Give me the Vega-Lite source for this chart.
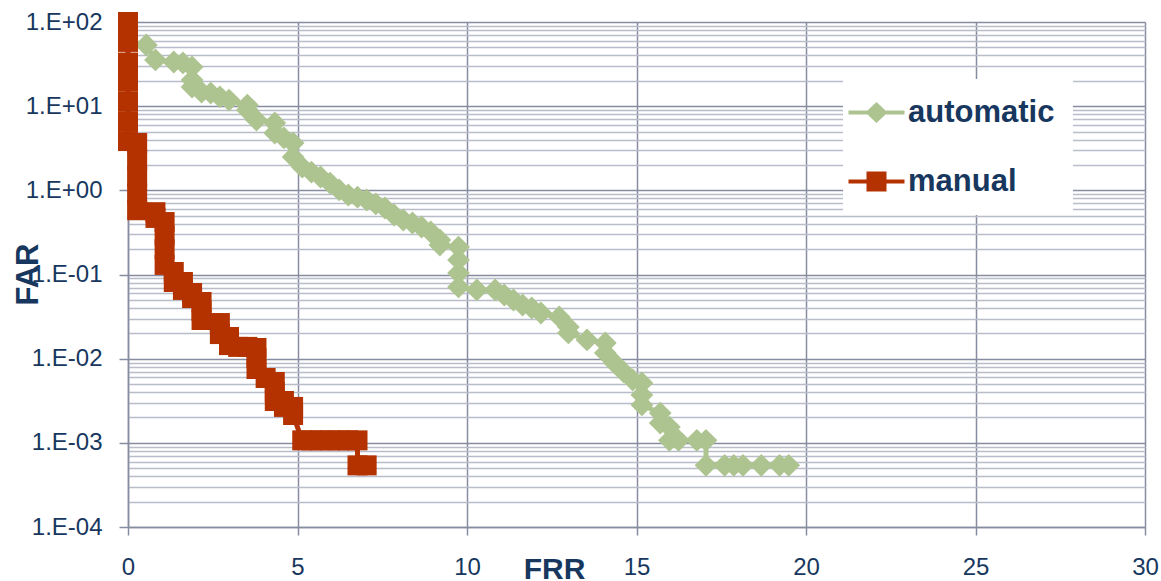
{
  "$schema": "https://vega.github.io/schema/vega-lite/v6.json",
  "width": 1017,
  "height": 505,
  "autosize": {"type": "none"},
  "padding": {"left": 128, "top": 22, "right": 16, "bottom": 54},
  "background": "white",
  "config": {"view": {"stroke": null}, "font": "Liberation Sans"},
  "title": {"text": "Matching epochs", "anchor": "start", "frame": "group", "dx": 362, "offset": 5, "baseline": "alphabetic", "font": "Liberation Sans", "fontSize": 45, "fontStyle": "italic", "fontWeight": "normal", "color": "#17375e"},
  "data": {"values": [
    {"series": "automatic", "order": 0, "FRR": 0.54, "FAR": 53.3},
    {"series": "automatic", "order": 1, "FRR": 0.81, "FAR": 35.4},
    {"series": "automatic", "order": 2, "FRR": 1.35, "FAR": 33.5},
    {"series": "automatic", "order": 3, "FRR": 1.62, "FAR": 32.6},
    {"series": "automatic", "order": 4, "FRR": 1.89, "FAR": 29.2},
    {"series": "automatic", "order": 5, "FRR": 1.89, "FAR": 20.5},
    {"series": "automatic", "order": 6, "FRR": 1.89, "FAR": 16.9},
    {"series": "automatic", "order": 7, "FRR": 2.17, "FAR": 14.7},
    {"series": "automatic", "order": 8, "FRR": 2.44, "FAR": 14.3},
    {"series": "automatic", "order": 9, "FRR": 2.71, "FAR": 12.9},
    {"series": "automatic", "order": 10, "FRR": 2.98, "FAR": 11.8},
    {"series": "automatic", "order": 11, "FRR": 3.52, "FAR": 10.3},
    {"series": "automatic", "order": 12, "FRR": 3.52, "FAR": 9.0},
    {"series": "automatic", "order": 13, "FRR": 3.79, "FAR": 6.85},
    {"series": "automatic", "order": 14, "FRR": 4.33, "FAR": 6.31},
    {"series": "automatic", "order": 15, "FRR": 4.33, "FAR": 4.8},
    {"series": "automatic", "order": 16, "FRR": 4.6, "FAR": 4.19},
    {"series": "automatic", "order": 17, "FRR": 4.87, "FAR": 3.65},
    {"series": "automatic", "order": 18, "FRR": 4.87, "FAR": 2.49},
    {"series": "automatic", "order": 19, "FRR": 5.14, "FAR": 1.89},
    {"series": "automatic", "order": 20, "FRR": 5.41, "FAR": 1.65},
    {"series": "automatic", "order": 21, "FRR": 5.68, "FAR": 1.44},
    {"series": "automatic", "order": 22, "FRR": 5.96, "FAR": 1.22},
    {"series": "automatic", "order": 23, "FRR": 6.23, "FAR": 1.01},
    {"series": "automatic", "order": 24, "FRR": 6.5, "FAR": 0.88},
    {"series": "automatic", "order": 25, "FRR": 6.77, "FAR": 0.83},
    {"series": "automatic", "order": 26, "FRR": 7.04, "FAR": 0.768},
    {"series": "automatic", "order": 27, "FRR": 7.31, "FAR": 0.689},
    {"series": "automatic", "order": 28, "FRR": 7.58, "FAR": 0.617},
    {"series": "automatic", "order": 29, "FRR": 7.85, "FAR": 0.509},
    {"series": "automatic", "order": 30, "FRR": 8.12, "FAR": 0.444},
    {"series": "automatic", "order": 31, "FRR": 8.39, "FAR": 0.409},
    {"series": "automatic", "order": 32, "FRR": 8.66, "FAR": 0.367},
    {"series": "automatic", "order": 33, "FRR": 8.93, "FAR": 0.32},
    {"series": "automatic", "order": 34, "FRR": 9.2, "FAR": 0.257},
    {"series": "automatic", "order": 35, "FRR": 9.2, "FAR": 0.224},
    {"series": "automatic", "order": 36, "FRR": 9.75, "FAR": 0.212},
    {"series": "automatic", "order": 37, "FRR": 9.75, "FAR": 0.149},
    {"series": "automatic", "order": 38, "FRR": 9.75, "FAR": 0.104},
    {"series": "automatic", "order": 39, "FRR": 9.75, "FAR": 0.0711},
    {"series": "automatic", "order": 40, "FRR": 10.29, "FAR": 0.0655},
    {"series": "automatic", "order": 41, "FRR": 10.83, "FAR": 0.0655},
    {"series": "automatic", "order": 42, "FRR": 11.1, "FAR": 0.0571},
    {"series": "automatic", "order": 43, "FRR": 11.37, "FAR": 0.0498},
    {"series": "automatic", "order": 44, "FRR": 11.64, "FAR": 0.0434},
    {"series": "automatic", "order": 45, "FRR": 11.91, "FAR": 0.04},
    {"series": "automatic", "order": 46, "FRR": 12.18, "FAR": 0.0349},
    {"series": "automatic", "order": 47, "FRR": 12.72, "FAR": 0.0313},
    {"series": "automatic", "order": 48, "FRR": 12.99, "FAR": 0.0238},
    {"series": "automatic", "order": 49, "FRR": 12.99, "FAR": 0.0202},
    {"series": "automatic", "order": 50, "FRR": 13.54, "FAR": 0.0167},
    {"series": "automatic", "order": 51, "FRR": 14.08, "FAR": 0.0154},
    {"series": "automatic", "order": 52, "FRR": 14.08, "FAR": 0.0117},
    {"series": "automatic", "order": 53, "FRR": 14.35, "FAR": 0.00889},
    {"series": "automatic", "order": 54, "FRR": 14.62, "FAR": 0.00695},
    {"series": "automatic", "order": 55, "FRR": 14.89, "FAR": 0.00558},
    {"series": "automatic", "order": 56, "FRR": 15.16, "FAR": 0.00514},
    {"series": "automatic", "order": 57, "FRR": 15.16, "FAR": 0.0037},
    {"series": "automatic", "order": 58, "FRR": 15.16, "FAR": 0.00282},
    {"series": "automatic", "order": 59, "FRR": 15.7, "FAR": 0.00226},
    {"series": "automatic", "order": 60, "FRR": 15.7, "FAR": 0.00172},
    {"series": "automatic", "order": 61, "FRR": 15.97, "FAR": 0.00154},
    {"series": "automatic", "order": 62, "FRR": 15.97, "FAR": 0.00107},
    {"series": "automatic", "order": 63, "FRR": 16.24, "FAR": 0.00107},
    {"series": "automatic", "order": 64, "FRR": 16.78, "FAR": 0.00107},
    {"series": "automatic", "order": 65, "FRR": 17.05, "FAR": 0.00107},
    {"series": "automatic", "order": 66, "FRR": 17.05, "FAR": 0.00054},
    {"series": "automatic", "order": 67, "FRR": 17.6, "FAR": 0.00054},
    {"series": "automatic", "order": 68, "FRR": 17.87, "FAR": 0.00054},
    {"series": "automatic", "order": 69, "FRR": 18.14, "FAR": 0.00054},
    {"series": "automatic", "order": 70, "FRR": 18.68, "FAR": 0.00054},
    {"series": "automatic", "order": 71, "FRR": 19.22, "FAR": 0.00054},
    {"series": "automatic", "order": 72, "FRR": 19.49, "FAR": 0.00054},
    {"series": "manual", "order": 0, "FRR": 0, "FAR": 100},
    {"series": "manual", "order": 1, "FRR": 0, "FAR": 58},
    {"series": "manual", "order": 2, "FRR": 0, "FAR": 33},
    {"series": "manual", "order": 3, "FRR": 0, "FAR": 19.5},
    {"series": "manual", "order": 4, "FRR": 0, "FAR": 11.3},
    {"series": "manual", "order": 5, "FRR": 0, "FAR": 6.6},
    {"series": "manual", "order": 6, "FRR": 0, "FAR": 3.85},
    {"series": "manual", "order": 7, "FRR": 0.27, "FAR": 3.65},
    {"series": "manual", "order": 8, "FRR": 0.27, "FAR": 2.3},
    {"series": "manual", "order": 9, "FRR": 0.27, "FAR": 1.45},
    {"series": "manual", "order": 10, "FRR": 0.27, "FAR": 0.92},
    {"series": "manual", "order": 11, "FRR": 0.27, "FAR": 0.58},
    {"series": "manual", "order": 12, "FRR": 0.81, "FAR": 0.55},
    {"series": "manual", "order": 13, "FRR": 0.81, "FAR": 0.47},
    {"series": "manual", "order": 14, "FRR": 1.08, "FAR": 0.42},
    {"series": "manual", "order": 15, "FRR": 1.08, "FAR": 0.29},
    {"series": "manual", "order": 16, "FRR": 1.08, "FAR": 0.2},
    {"series": "manual", "order": 17, "FRR": 1.08, "FAR": 0.13},
    {"series": "manual", "order": 18, "FRR": 1.35, "FAR": 0.107},
    {"series": "manual", "order": 19, "FRR": 1.35, "FAR": 0.0815},
    {"series": "manual", "order": 20, "FRR": 1.62, "FAR": 0.0815},
    {"series": "manual", "order": 21, "FRR": 1.62, "FAR": 0.0655},
    {"series": "manual", "order": 22, "FRR": 1.89, "FAR": 0.0603},
    {"series": "manual", "order": 23, "FRR": 1.89, "FAR": 0.0526},
    {"series": "manual", "order": 24, "FRR": 2.17, "FAR": 0.0471},
    {"series": "manual", "order": 25, "FRR": 2.17, "FAR": 0.0368},
    {"series": "manual", "order": 26, "FRR": 2.17, "FAR": 0.0288},
    {"series": "manual", "order": 27, "FRR": 2.71, "FAR": 0.0265},
    {"series": "manual", "order": 28, "FRR": 2.71, "FAR": 0.0196},
    {"series": "manual", "order": 29, "FRR": 2.98, "FAR": 0.0181},
    {"series": "manual", "order": 30, "FRR": 2.98, "FAR": 0.0145},
    {"series": "manual", "order": 31, "FRR": 3.25, "FAR": 0.0138},
    {"series": "manual", "order": 32, "FRR": 3.52, "FAR": 0.0138},
    {"series": "manual", "order": 33, "FRR": 3.79, "FAR": 0.0134},
    {"series": "manual", "order": 34, "FRR": 3.79, "FAR": 0.0102},
    {"series": "manual", "order": 35, "FRR": 3.79, "FAR": 0.00754},
    {"series": "manual", "order": 36, "FRR": 4.06, "FAR": 0.00589},
    {"series": "manual", "order": 37, "FRR": 4.33, "FAR": 0.00528},
    {"series": "manual", "order": 38, "FRR": 4.33, "FAR": 0.00402},
    {"series": "manual", "order": 39, "FRR": 4.33, "FAR": 0.00314},
    {"series": "manual", "order": 40, "FRR": 4.6, "FAR": 0.00314},
    {"series": "manual", "order": 41, "FRR": 4.6, "FAR": 0.00267},
    {"series": "manual", "order": 42, "FRR": 4.87, "FAR": 0.00267},
    {"series": "manual", "order": 43, "FRR": 4.87, "FAR": 0.00214},
    {"series": "manual", "order": 44, "FRR": 5.14, "FAR": 0.00107},
    {"series": "manual", "order": 45, "FRR": 5.41, "FAR": 0.00107},
    {"series": "manual", "order": 46, "FRR": 5.68, "FAR": 0.00107},
    {"series": "manual", "order": 47, "FRR": 5.96, "FAR": 0.00107},
    {"series": "manual", "order": 48, "FRR": 6.23, "FAR": 0.00107},
    {"series": "manual", "order": 49, "FRR": 6.5, "FAR": 0.00107},
    {"series": "manual", "order": 50, "FRR": 6.77, "FAR": 0.00107},
    {"series": "manual", "order": 51, "FRR": 6.77, "FAR": 0.00054},
    {"series": "manual", "order": 52, "FRR": 7.04, "FAR": 0.00054}
  ]},
  "encoding": {
    "x": {
      "field": "FRR", "type": "quantitative",
      "scale": {"domain": [0, 30], "nice": false, "zero": false},
      "axis": {
        "values": [0, 5, 10, 15, 20, 25, 30],
        "grid": true, "gridColor": "#878ca0", "gridWidth": 1.5,
        "domain": true, "domainColor": "#878ca0", "domainWidth": 1.5,
        "ticks": true, "tickColor": "#878ca0", "tickWidth": 1.5, "tickSize": 8,
        "labelFont": "Liberation Sans", "labelFontSize": 24, "labelColor": "#17375e", "labelPadding": 20, "labelFlush": false, "labelOverlap": false,
        "title": "FRR", "titleFont": "Liberation Sans", "titleFontSize": 30, "titleFontWeight": "bold", "titleColor": "#17375e",
        "titleX": 426, "titleY": 51, "titleBaseline": "alphabetic", "titleAlign": "center"
      }
    },
    "y": {
      "field": "FAR", "type": "quantitative",
      "scale": {"type": "log", "domain": [0.0001, 100], "nice": false},
      "axis": {
        "values": [0.0001,0.0002,0.0003,0.0004,0.0005,0.0006,0.0007,0.0008,0.0009,0.001,0.002,0.003,0.004,0.005,0.006,0.007,0.008,0.009,0.01,0.02,0.03,0.04,0.05,0.06,0.07,0.08,0.09,0.1,0.2,0.3,0.4,0.5,0.6,0.7,0.8,0.9,1,2,3,4,5,6,7,8,9,10,20,30,40,50,60,70,80,90,100],
        "grid": true,
        "gridColor": {"condition": {"test": "abs(log(datum.value)/LN10 - round(log(datum.value)/LN10)) < 0.01", "value": "#878ca0"}, "value": "#b9bcc9"},
        "gridWidth": 1.5,
        "domain": true, "domainColor": "#878ca0", "domainWidth": 1.5,
        "ticks": true, "tickColor": "#878ca0", "tickWidth": 1.5, "tickSize": 9,
        "tickOpacity": {"condition": {"test": "abs(log(datum.value)/LN10 - round(log(datum.value)/LN10)) < 0.01", "value": 1}, "value": 0},
        "labelExpr": "abs(log(datum.value)/LN10 - round(log(datum.value)/LN10)) < 0.01 ? '1.E' + (datum.value < 1 ? '-' : '+') + '0' + abs(round(log(datum.value)/LN10)) : ''",
        "labelFont": "Liberation Sans", "labelFontSize": 24, "labelColor": "#17375e", "labelPadding": 17, "labelOverlap": false, "labelFlush": false,
        "title": "FAR", "titleFont": "Liberation Sans", "titleFontSize": 31, "titleFontWeight": "bold", "titleColor": "#17375e",
        "titleAngle": -90, "titleX": -91, "titleY": 252, "titleBaseline": "alphabetic", "titleAlign": "center"
      }
    },
    "color": {
      "field": "series", "type": "nominal",
      "scale": {"domain": ["automatic", "manual"], "range": ["#adc490", "#b33200"]},
      "legend": {
        "orient": "none", "legendX": 715, "legendY": 57, "title": null,
        "fillColor": "white", "padding": 18, "rowPadding": 37,
        "symbolSize": 400, "symbolStrokeWidth": 0, "labelOffset": 16,
        "labelFont": "Liberation Sans", "labelFontSize": 31, "labelFontWeight": "bold", "labelColor": "#17375e",
        "encode": {
          "symbols": {
            "update": {
              "shape": {"signal": "datum.value === 'automatic' ? 'M-2.8,-0.2L-0.9,-0.2L0,-1.05L0.9,-0.2L2.8,-0.2L2.8,0.2L0.9,0.2L0,1.05L-0.9,0.2L-2.8,0.2Z' : 'M-2.8,-0.2L-1,-0.2L-1,-1L1,-1L1,-0.2L2.8,-0.2L2.8,0.2L1,0.2L1,1L-1,1L-1,0.2L-2.8,0.2Z'"},
              "fill": {"signal": "datum.value === 'automatic' ? '#adc490' : '#b33200'"},
              "stroke": {"value": "transparent"},
              "opacity": {"value": 1}
            }
          }
        }
      }
    },
    "order": {"field": "order", "type": "quantitative"}
  },
  "layer": [
    {"mark": {"type": "line", "strokeWidth": 5}},
    {
      "transform": [{"filter": "datum.series === 'automatic'"}],
      "mark": {"type": "point", "shape": "diamond", "filled": true, "size": 520, "opacity": 1, "strokeWidth": 0}
    },
    {
      "transform": [{"filter": "datum.series === 'manual'"}],
      "mark": {"type": "point", "shape": "square", "filled": true, "size": 400, "opacity": 1, "strokeWidth": 0}
    }
  ]
}
